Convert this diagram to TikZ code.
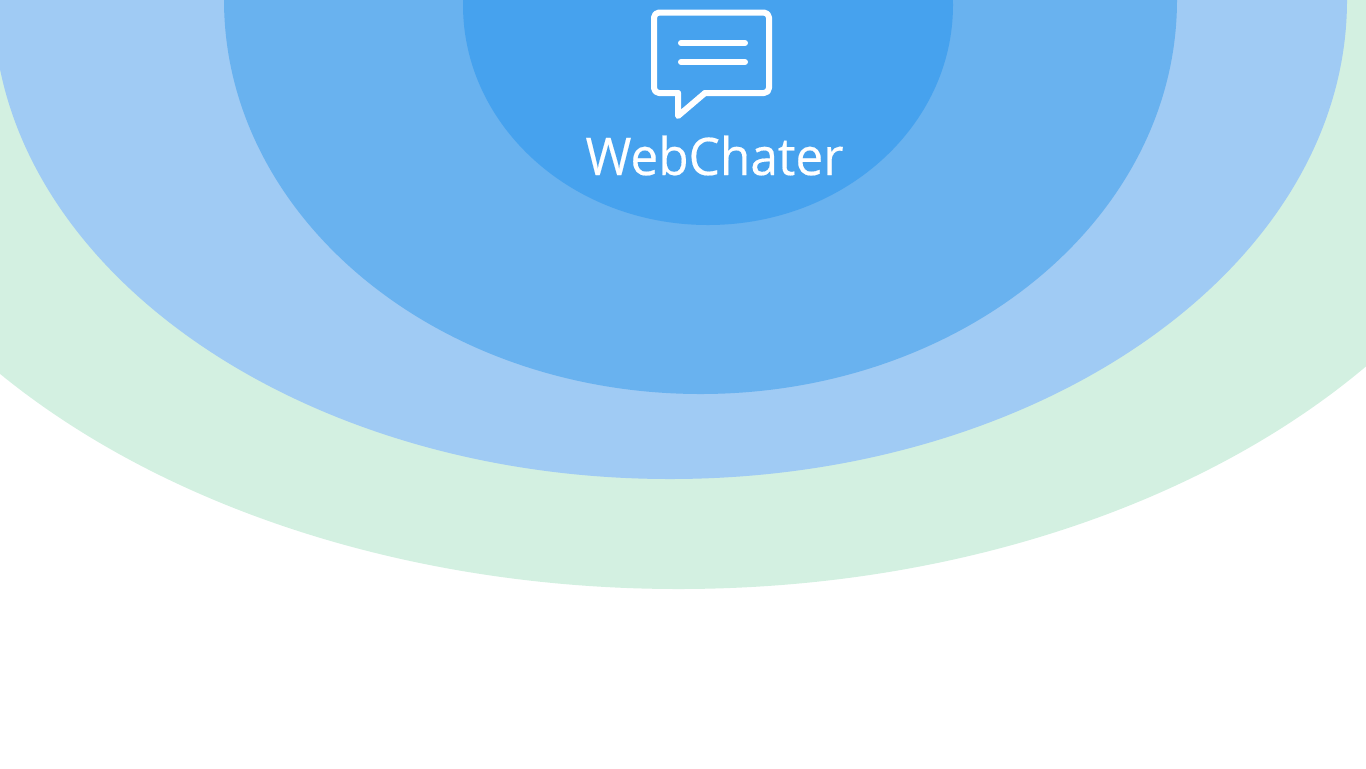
\documentclass[tikz,border=0pt]{standalone}
\usepackage{fontspec}
\setmainfont{Open Sans}[FakeBold=0.3]
\usepackage{xcolor}
\definecolor{ringa}{HTML}{D3F0E1}
\definecolor{ringb}{HTML}{A0CBF4}
\definecolor{ringc}{HTML}{69B2EF}
\definecolor{ringd}{HTML}{46A2EE}

\begin{document}
\begin{tikzpicture}[x=0.01in,y=-0.01in]
\useasboundingbox (0,0) rectangle (1366,768);
\begin{scope}
    \clip (0,0) rectangle (1366,768);
    \fill[ringa] (678.5,0) ellipse[x radius=878,y radius=589];
    \fill[ringb] (670,0) ellipse[x radius=677,y radius=479];
    \fill[ringc] (700.5,0) ellipse[x radius=476.5,y radius=394];
    \fill[ringd] (708,5) ellipse[x radius=245,y radius=220];
\end{scope}

\begin{scope}[white,line width=0.06in,line cap=round,line join=round]
    \draw[rounded corners=0.05in] (678,93) -- (654,93) -- (654,12.5) -- (769,12.5) -- (769,93) -- (705,93);
    \draw (705,93) -- (678,116) -- (678,93);
    \draw (681,43) -- (745,43);
    \draw (681,62) -- (745,62);
\end{scope}

\node[white,font=\fontsize{37.5}{37.5}\selectfont,xscale=0.955,anchor=base] (title) at (714.5,175) {WebChater};
\end{tikzpicture}
\end{document}
